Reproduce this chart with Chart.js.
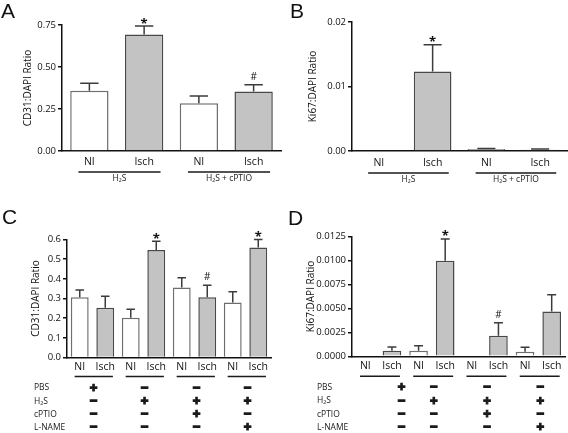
<!DOCTYPE html>
<html>
<head>
<meta charset="utf-8">
<script src="https://cdn.jsdelivr.net/npm/chart.js@4.4.0/dist/chart.umd.min.js"></script>
<style>
  body { margin: 0; background: #fff; }
  #fig { position: relative; width: 568px; height: 433px; overflow: hidden; background: #fff; }
  canvas { position: absolute; }
  .tag { position: absolute; font: 21px "Liberation Sans", Arial, sans-serif; line-height: 21px; color: #111; }
</style>
</head>
<body>
<div id="fig">
  <canvas id="chartA" width="290" height="200" style="left:0;top:0"></canvas>
  <canvas id="chartB" width="278" height="200" style="left:290px;top:0"></canvas>
  <canvas id="chartC" width="290" height="233" style="left:0;top:200px"></canvas>
  <canvas id="chartD" width="278" height="233" style="left:290px;top:200px"></canvas>
  <div class="tag" style="left:1px;top:0">A</div>
  <div class="tag" style="left:290px;top:0">B</div>
  <div class="tag" style="left:2px;top:206px">C</div>
  <div class="tag" style="left:288px;top:207px">D</div>
</div>
<script>
const FONT = '"Open Sans", "Noto Sans", sans-serif';

// top row: two treatment groups
const labelsAB = ['NI', 'Isch', 'NI', 'Isch'];
const groupNamesAB = ['H\u2082S', 'H\u2082S + cPTIO'];

const cd31A = [0.358, 0.694, 0.284, 0.354];
const cd31AErr = [0.046, 0.050, 0.044, 0.040];
const cd31AMarks = ['', '*', '', '#'];

const ki67B = [0, 0.01233, 0.0003, 0.0002];
const ki67BErr = [0, 0.00415, 0.0001, 0.0001];
const ki67BMarks = ['', '*', '', ''];

// bottom row: four treatment groups
const labelsCD = ['NI', 'Isch', 'NI', 'Isch', 'NI', 'Isch', 'NI', 'Isch'];

const cd31C = [0.306, 0.253, 0.202, 0.546, 0.356, 0.306, 0.280, 0.559];
const cd31CErr = [0.037, 0.059, 0.043, 0.045, 0.049, 0.062, 0.054, 0.041];
const cd31CMarks = ['', '', '', '*', '', '#', '', '*'];

const ki67D = [0, 0.00059, 0.00059, 0.00997, 0, 0.00215, 0.00048, 0.00467];
const ki67DErr = [0, 0.00038, 0.00051, 0.00227, 0, 0.00136, 0.00046, 0.00174];
const ki67DMarks = ['', '', '', '*', '', '#', '', ''];

const treatments = ['PBS', 'H\u2082S', 'cPTIO', 'L-NAME'];
const treatmentSigns = [
  ['+', '\u2212', '\u2212', '\u2212'],
  ['\u2212', '+', '+', '+'],
  ['\u2212', '\u2212', '+', '\u2212'],
  ['\u2212', '\u2212', '\u2212', '+']
];

// error bars, significance marks, group underlines and the treatment table
const extras = {
  id: 'extras',
  afterDatasetsDraw(chart, args, opts) {
    const {ctx} = chart;
    const y = chart.scales.y;
    const vals = chart.data.datasets[0].data;
    ctx.save();
    ctx.strokeStyle = '#3c3c3c';
    ctx.lineWidth = 1.5;
    chart.getDatasetMeta(0).data.forEach((bar, i) => {
      const e = opts.errors[i];
      const top = y.getPixelForValue(vals[i] + e);
      if (e > 0) {
        const base = y.getPixelForValue(vals[i]);
        const cap = bar.width * 0.24;
        ctx.beginPath();
        ctx.moveTo(bar.x, base);
        ctx.lineTo(bar.x, top);
        ctx.moveTo(bar.x - cap, top);
        ctx.lineTo(bar.x + cap, top);
        ctx.stroke();
      }
      const m = opts.marks[i];
      if (m) {
        ctx.fillStyle = '#111';
        ctx.textAlign = 'center';
        ctx.textBaseline = 'alphabetic';
        if (m === '*') {
          ctx.font = 'bold 13px ' + FONT;
          ctx.fillText(m, bar.x, top + 1.5);
        } else {
          ctx.font = '10px ' + FONT;
          ctx.fillText(m, bar.x, top - 5);
        }
      }
    });
    ctx.restore();
  },
  afterDraw(chart, args, opts) {
    const {ctx, chartArea} = chart;
    const xs = chart.scales.x;
    const cw = xs.width / chart.data.labels.length;
    const nGroups = chart.data.labels.length / 2;
    ctx.save();
    ctx.strokeStyle = '#1a1a1a';
    ctx.fillStyle = '#1a1a1a';
    ctx.lineWidth = 1.5;
    const lineY = chartArea.bottom + opts.lineGap;
    const centers = [];
    for (let g = 0; g < nGroups; g++) {
      const p0 = xs.getPixelForValue(2 * g), p1 = xs.getPixelForValue(2 * g + 1);
      const x0 = p0 - 0.2 * cw, x1 = p1 + 0.3 * cw;
      ctx.beginPath();
      ctx.moveTo(x0, lineY);
      ctx.lineTo(x1, lineY);
      ctx.stroke();
      centers.push((p0 + p1) / 2);
      if (opts.groupNames) {
        ctx.font = '8.5px ' + FONT;
        ctx.textAlign = 'center';
        ctx.textBaseline = 'top';
        ctx.fillText(opts.groupNames[g], (x0 + x1) / 2, lineY + 2);
      }
    }
    if (opts.table) {
      ctx.textBaseline = 'middle';
      treatments.forEach((name, r) => {
        const ry = chartArea.bottom + opts.rowStart + r * opts.rowGap;
        ctx.font = '8.5px ' + FONT;
        ctx.textAlign = 'left';
        ctx.fillText(name, opts.rowLabelX, ry);
        ctx.font = 'bold 13px "Liberation Sans", Arial, sans-serif';
        ctx.textAlign = 'center';
        ctx.lineWidth = 1.2;
        treatmentSigns[r].forEach((s, c) => {
          const sx = centers[c] + opts.signShift[c];
          ctx.fillText(s, sx, ry);
          ctx.strokeText(s, sx, ry);
        });
      });
    }
    ctx.restore();
  }
};

const makePanel = (id, cfg) => new Chart(document.getElementById(id).getContext('2d'), {
  type: 'bar',
  data: {
    labels: cfg.labels,
    datasets: [{
      data: cfg.values,
      backgroundColor: cfg.labels.map(l => l === 'NI' ? '#ffffff' : '#c3c3c3'),
      borderColor: cfg.labels.map(l => l === 'NI' ? '#6e6e6e' : '#484848'),
      borderWidth: 1.5,
      barPercentage: 0.7,
      categoryPercentage: 1
    }]
  },
  options: {
    responsive: false,
    animation: false,
    layout: {padding: cfg.padding},
    plugins: {
      legend: {display: false},
      tooltip: {enabled: false},
      extras: cfg.extras
    },
    scales: {
      x: {
        grid: {display: false, drawTicks: false},
        border: {display: true, color: '#111', width: 1.5},
        ticks: {color: '#111', font: {family: FONT, size: 10.5}, padding: cfg.xPad, maxRotation: 0, autoSkip: false},
        afterFit: s => { s.height = cfg.xHeight; }
      },
      y: {
        min: 0,
        max: cfg.yMax,
        ticks: {
          stepSize: cfg.step,
          color: '#111',
          font: {family: FONT, size: 9.5},
          padding: 2,
          callback: v => Number(v).toFixed(cfg.dec)
        },
        grid: {drawOnChartArea: false, drawTicks: true, tickLength: 4, color: '#111', lineWidth: 1.5},
        border: {display: true, color: '#111', width: 1.5},
        title: {display: true, text: cfg.yTitle, color: '#111', font: {family: FONT, size: 10}, padding: {top: cfg.titlePad, bottom: 0}},
        afterFit: s => { s.width = cfg.yWidth; }
      }
    }
  },
  plugins: [extras]
});

makePanel('chartA', {
  labels: labelsAB, values: cd31A, yMax: 0.75, step: 0.25, dec: 2,
  yTitle: 'CD31:DAPI Ratio', titlePad: 22, yWidth: 62, xHeight: 49, xPad: 5,
  padding: {top: 25, right: 9, bottom: 0, left: 0},
  extras: {errors: cd31AErr, marks: cd31AMarks, lineGap: 21, groupNames: groupNamesAB}
});

makePanel('chartB', {
  labels: labelsAB, values: ki67B, yMax: 0.02, step: 0.01, dec: 2,
  yTitle: 'Ki67:DAPI Ratio', titlePad: 17, yWidth: 62, xHeight: 49, xPad: 6,
  padding: {top: 22, right: 1, bottom: 0, left: 0},
  extras: {errors: ki67BErr, marks: ki67BMarks, lineGap: 22, groupNames: groupNamesAB}
});

makePanel('chartC', {
  labels: labelsCD, values: cd31C, yMax: 0.6, step: 0.1, dec: 1,
  yTitle: 'CD31:DAPI Ratio', titlePad: 30, yWidth: 67, xHeight: 75.5, xPad: 3,
  padding: {top: 39.5, right: 19, bottom: 0, left: 0},
  extras: {errors: cd31CErr, marks: cd31CMarks, lineGap: 19, table: true,
           rowLabelX: 34, rowStart: 30.5, rowGap: 13.2, signShift: [1, 1, 2, 2]}
});

makePanel('chartD', {
  labels: labelsCD, values: ki67D, yMax: 0.0125, step: 0.0025, dec: 4,
  yTitle: 'Ki67:DAPI Ratio', titlePad: 15, yWidth: 62, xHeight: 76.7, xPad: 3,
  padding: {top: 36.5, right: 3, bottom: 0, left: 0},
  extras: {errors: ki67DErr, marks: ki67DMarks, lineGap: 20, table: true,
           rowLabelX: 27, rowStart: 31.5, rowGap: 13.2, signShift: [23, 2, 2, 2]}
});
</script>
</body>
</html>
